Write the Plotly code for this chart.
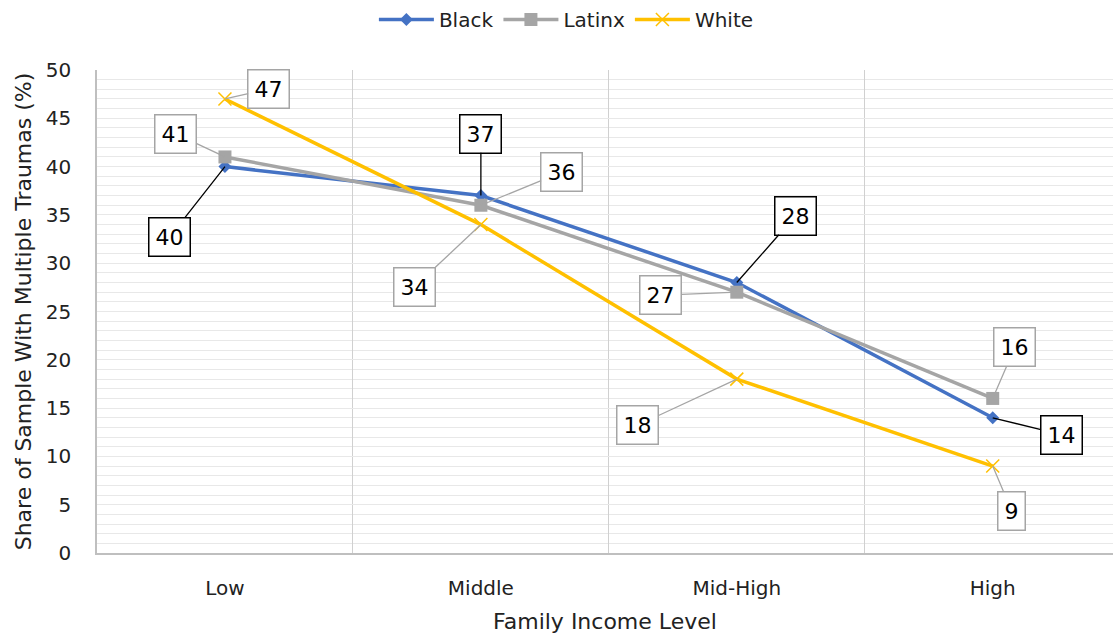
import plotly.graph_objects as go

categories = ["Low", "Middle", "Mid-High", "High"]
black = [40, 37, 28, 14]
latinx = [41, 36, 27, 16]
white = [47, 34, 18, 9]

series = [
    ("Black", black, "#4472C4", dict(symbol="diamond", size=10)),
    ("Latinx", latinx, "#A5A5A5", dict(symbol="square", size=13)),
    ("White", white, "#FFC000", dict(symbol="x-thin", size=13, line=dict(width=1.5, color="#FFC000"))),
]

# callout offsets (pixels) for each series' labels
offsets = {
    "Black": [(-55, 70), (0, -62), (59, -67), (69, 17)],
    "Latinx": [(-49, -23), (81, -33), (-76, 3), (22, -51)],
    "White": [(44, -10), (-66, 62), (-99, 46), (19, 45)],
}
border_colors = {"Black": "#000000", "Latinx": "#A5A5A5", "White": "#A5A5A5"}

FONT = "DejaVu Sans"
TXT = "#222222"
fig = go.Figure()
for name, vals, color, marker in series:
    fig.add_trace(go.Scatter(
        x=categories, y=vals, name=name, mode="lines+markers",
        line=dict(color=color, width=3.5),
        marker=dict(color=color, **marker),
    ))

annotations = []
for name, vals, color, marker in series:
    for cat, v, (ax, ay) in zip(categories, vals, offsets[name]):
        annotations.append(dict(
            x=cat, y=v, text=str(v), showarrow=True, arrowhead=0,
            arrowwidth=1.3, arrowcolor=border_colors[name],
            ax=ax, ay=ay, bordercolor=border_colors[name], borderwidth=1.5,
            borderpad=6, bgcolor="white",
            font=dict(family=FONT, size=22, color="#000000"),
        ))

fig.update_layout(
    width=1113, height=639,
    margin=dict(l=97, r=0, t=70, b=86),
    paper_bgcolor="white", plot_bgcolor="white",
    font=dict(family=FONT, color=TXT),
    annotations=annotations,
    legend=dict(orientation="h", x=0.462, xanchor="center", y=1.0, yref="container", yanchor="top",
                font=dict(size=20, family=FONT, color=TXT), itemwidth=55),
    xaxis=dict(
        type="category", range=[-0.5, 3.47], tickson="boundaries",
        showgrid=True, gridcolor="#D0D0D0", gridwidth=1.3,
        showline=True, linecolor="#BFBFBF", linewidth=1.5,
        ticks="", tickfont=dict(size=20, family=FONT, color=TXT),
        ticklabelstandoff=16,
        title=dict(text="Family Income Level", font=dict(size=22, family=FONT, color=TXT), standoff=15),
    ),
    yaxis=dict(
        range=[0, 50], dtick=5, showgrid=True, gridcolor="#E8E8E8", gridwidth=1.3,
        minor=dict(dtick=1, showgrid=True, gridcolor="#E8E8E8", gridwidth=1.3),
        showline=True, linecolor="#BFBFBF", linewidth=1.5,
        zeroline=False, ticks="", ticklabelstandoff=20,
        tickfont=dict(size=20, family=FONT, color=TXT),
        title=dict(text="Share of Sample With Multiple Traumas (%)", font=dict(size=22, family=FONT, color=TXT), standoff=8),
    ),
)

fig.write_html("out.html")
